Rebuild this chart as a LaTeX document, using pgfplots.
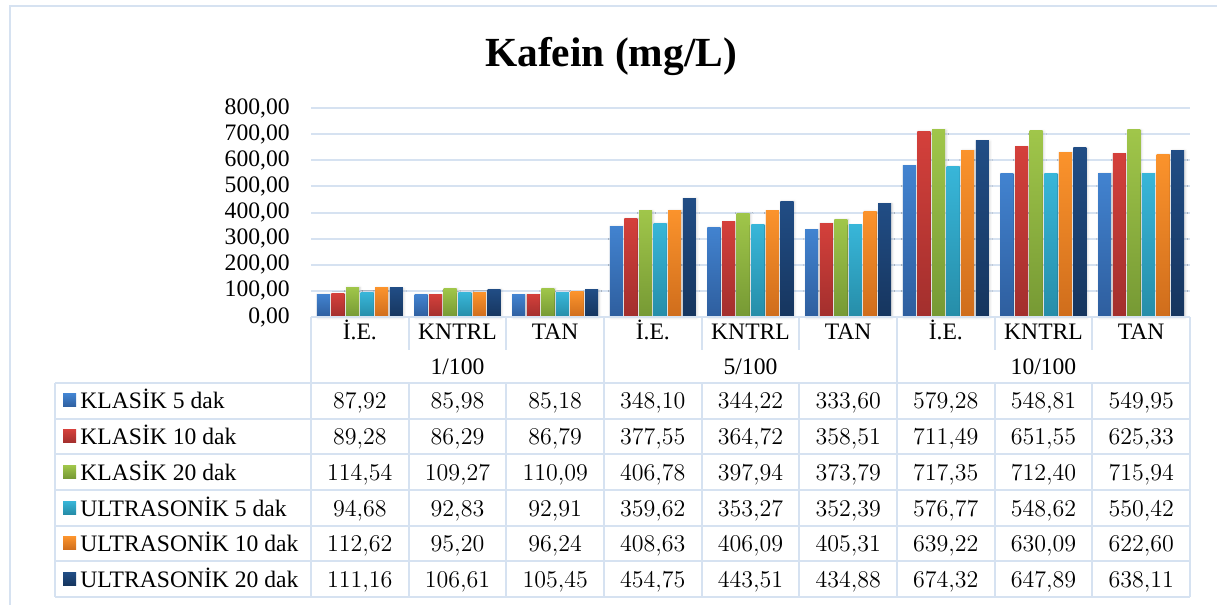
\documentclass[border=0pt]{standalone}
\usepackage{pgfplots}
\pgfplotsset{compat=1.18}
\usepackage{pgfplotstable}
\usepackage{fontspec}
\usetikzlibrary{shadows.blur}
\setmainfont{Liberation Serif}

\definecolor{gridblue}{HTML}{D6E2F1}
\definecolor{kAt}{HTML}{4283D0}\definecolor{kAb}{HTML}{2E5E9E}
\definecolor{kBt}{HTML}{D4403B}\definecolor{kBb}{HTML}{A22F2D}
\definecolor{kCt}{HTML}{A0C64A}\definecolor{kCb}{HTML}{769934}
\definecolor{uAt}{HTML}{38B6D9}\definecolor{uAb}{HTML}{268DA8}
\definecolor{uBt}{HTML}{FB932C}\definecolor{uBb}{HTML}{CF6D1C}
\definecolor{uCt}{HTML}{214D85}\definecolor{uCb}{HTML}{16355E}

% caffeine concentrations (mg/L): rows = dilution/sample, columns = method
\pgfplotstableread{
idx k5 k10 k20 u5 u10 u20
0 87.92 89.28 114.54 94.68 112.62 111.16
1 85.98 86.29 109.27 92.83 95.20 106.61
2 85.18 86.79 110.09 92.91 96.24 105.45
3 348.10 377.55 406.78 359.62 408.63 454.75
4 344.22 364.72 397.94 353.27 406.09 443.51
5 333.60 358.51 373.79 352.39 405.31 434.88
6 579.28 711.49 717.35 576.77 639.22 674.32
7 548.81 651.55 712.40 548.62 630.09 647.89
8 549.95 625.33 715.94 550.42 622.60 638.11
}\kafein

\pgfplotsset{kbar/.style n args={3}{ybar, bar width=6.5pt, bar shift=#1,
  draw=none, top color=#2, bottom color=#3, forget plot,
  blur shadow={shadow xshift=0.5pt, shadow yshift=-0.3pt,
    shadow blur radius=1.2pt, shadow opacity=18}}}

\begin{document}
\fontsize{11.8}{14}\selectfont
\begin{tikzpicture}[x=0.5pt,y=0.5pt]
\path[use as bounding box] (0,0) rectangle (1217,605);
% outer chart frame
\draw[gridblue, line width=1pt] (10,0) -- (10,599) -- (1217,599);
% title
\node[anchor=base, font=\fontsize{20.7}{24}\selectfont\bfseries] at (611,538) {Kafein (mg/L)};

\begin{axis}[
  at={(155.5pt,144pt)}, anchor=south west,
  scale only axis, width=439.5pt, height=104.5pt,
  xmin=-0.5, xmax=8.5, ymin=0, ymax=800,
  xtick=\empty, ytick={0,100,...,800},
  ymajorgrids, major grid style={gridblue, line width=1pt},
  axis line style={draw=none}, major tick length=0pt,
  yticklabel style={inner sep=0pt, xshift=-10.5pt},
  yticklabel={\pgfmathprintnumber[fixed,fixed zerofill,precision=2,use comma,assume math mode=true]{\tick}},
  clip=false,
]
\pgfplotsinvokeforeach{0,...,8}{
  \addplot[kbar={-18.25pt}{kAt}{kAb}] table[x expr=\coordindex, y=k5, restrict expr to domain={\coordindex}{#1:#1}] {\kafein};
  \addplot[kbar={-10.95pt}{kBt}{kBb}] table[x expr=\coordindex, y=k10, restrict expr to domain={\coordindex}{#1:#1}] {\kafein};
  \addplot[kbar={-3.65pt}{kCt}{kCb}] table[x expr=\coordindex, y=k20, restrict expr to domain={\coordindex}{#1:#1}] {\kafein};
  \addplot[kbar={3.65pt}{uAt}{uAb}] table[x expr=\coordindex, y=u5, restrict expr to domain={\coordindex}{#1:#1}] {\kafein};
  \addplot[kbar={10.95pt}{uBt}{uBb}] table[x expr=\coordindex, y=u10, restrict expr to domain={\coordindex}{#1:#1}] {\kafein};
  \addplot[kbar={18.25pt}{uCt}{uCb}] table[x expr=\coordindex, y=u20, restrict expr to domain={\coordindex}{#1:#1}] {\kafein};
}
\end{axis}

% ---- data table below the axis (coordinates in px, y measured upward) ----
\begin{scope}[gridblue, line width=1pt]
  \draw (311,288) -- (1190,288);
  \foreach \k in {0,...,6} {
    \pgfmathsetmacro\yy{222-35.67*\k}
    \draw (55,\yy) -- (1190,\yy);
  }
  % group borders run the full height
  \foreach \k in {0,3,6,9} {
    \pgfmathsetmacro\xx{311+97.667*\k}
    \draw (\xx,288) -- (\xx,8);
  }
  % inner category borders: short in the header, full in the body
  \foreach \k in {1,2,4,5,7,8} {
    \pgfmathsetmacro\xx{311+97.667*\k}
    \draw (\xx,288) -- (\xx,255);
    \draw (\xx,222) -- (\xx,8);
  }
  \draw (55,222) -- (55,8);
\end{scope}

% category and group names
\foreach \c [count=\i from 0] in {İ.E.,KNTRL,TAN,İ.E.,KNTRL,TAN,İ.E.,KNTRL,TAN} {
  \pgfmathsetmacro\cx{311+(\i+0.5)*97.667}
  \node[anchor=base, inner sep=0pt] at (\cx,265) {\c};
}
\foreach \g [count=\i from 0] in {1/100,5/100,10/100} {
  \pgfmathsetmacro\cx{311+(3*\i+1.5)*97.667}
  \node[anchor=base, inner sep=0pt] at (\cx,230) {\g};
}

% series rows: legend key, name and values
\foreach \lab/\ct/\cb/\col [count=\rr from 0] in {
  KLASİK 5 dak/kAt/kAb/k5, KLASİK 10 dak/kBt/kBb/k10, KLASİK 20 dak/kCt/kCb/k20,
  ULTRASONİK 5 dak/uAt/uAb/u5, ULTRASONİK 10 dak/uBt/uBb/u10, ULTRASONİK 20 dak/uCt/uCb/u20} {
  \pgfmathsetmacro\by{605-(383+35.67*\rr+26)}
  \pgfmathsetmacro\sqt{605-(383+35.67*\rr+11)}
  \pgfmathsetmacro\sqb{\sqt-13}
  \shade[top color=\ct, bottom color=\cb] (63,\sqb) rectangle (76,\sqt);
  \node[anchor=base west, inner sep=0pt] at (80,\by) {\lab};
  \foreach \i in {0,...,8} {
    \pgfmathsetmacro\cx{311+(\i+0.5)*97.667}
    \pgfplotstablegetelem{\i}{\col}\of\kafein
    \let\val\pgfplotsretval
    \node[anchor=base, inner sep=0pt] at (\cx,\by)
      {\pgfmathprintnumber[fixed,fixed zerofill,precision=2,use comma]{\val}};
  }
}
\end{tikzpicture}
\end{document}
